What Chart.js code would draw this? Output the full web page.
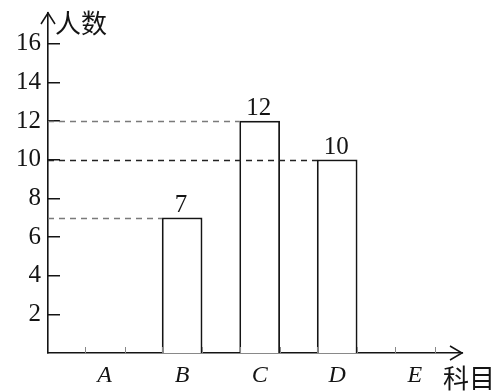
<!DOCTYPE html>
<html><head><meta charset="utf-8">
<script src="https://cdn.jsdelivr.net/npm/chart.js@4/dist/chart.umd.min.js"></script>
<style>html,body{margin:0;padding:0;background:#fff;}</style>
</head><body>
<canvas id="c" width="496" height="392" style="display:block;width:496px;height:392px"></canvas>
<script>
const categories = ['A', 'B', 'C', 'D', 'E'];
const counts = [0, 7, 12, 10, 0];
const yTicks = [2, 4, 6, 8, 10, 12, 14, 16];
const yTitle = '人数';
const xTitle = '科目';

const INK = '#141414';

const decor = {
  id: 'decor',
  afterDatasetsDraw(chart) {
    const { ctx, chartArea: a, scales: { y } } = chart;
    const meta = chart.getDatasetMeta(0);
    ctx.save();
    // dashed guide lines from the y axis to each bar's top-left corner
    meta.data.forEach((bar, i) => {
      const v = counts[i];
      if (!v) return;
      const py = Math.round(y.getPixelForValue(v)) + 0.5;
      const left = bar.x - bar.width / 2;
      ctx.beginPath();
      ctx.setLineDash([6, 5]);
      ctx.strokeStyle = i === 3 ? '#222' : '#7a7a7a';
      ctx.lineWidth = i === 3 ? 1.5 : 1.3;
      ctx.moveTo(a.left, py);
      ctx.lineTo(left, py);
      ctx.stroke();
    });
    ctx.setLineDash([]);
    // value labels
    ctx.fillStyle = INK;
    ctx.font = '25px "Liberation Serif"';
    ctx.textAlign = 'center';
    ctx.textBaseline = 'alphabetic';
    meta.data.forEach((bar, i) => {
      if (!counts[i]) return;
      ctx.fillText(String(counts[i]), bar.x - 1, bar.y - 6);
    });
    // small marks on the x axis at bar edges
    ctx.strokeStyle = '#888';
    ctx.lineWidth = 1;
    meta.data.forEach(bar => {
      [bar.x - bar.width / 2, bar.x + bar.width / 2].forEach(px => {
        ctx.beginPath();
        ctx.moveTo(Math.round(px) + 0.5, a.bottom);
        ctx.lineTo(Math.round(px) + 0.5, a.bottom - 6);
        ctx.stroke();
      });
    });
    // arrow heads
    ctx.strokeStyle = INK;
    ctx.lineWidth = 1.5;
    ctx.beginPath();
    ctx.moveTo(a.left - 7, a.top + 11);
    ctx.lineTo(a.left, a.top);
    ctx.lineTo(a.left + 7, a.top + 11);
    ctx.stroke();
    ctx.beginPath();
    ctx.moveTo(a.right - 12, a.bottom - 7);
    ctx.lineTo(a.right, a.bottom);
    ctx.lineTo(a.right - 12, a.bottom + 7);
    ctx.stroke();
    // axis titles
    ctx.font = '26px "Noto Sans CJK SC"';
    ctx.textAlign = 'left';
    ctx.textBaseline = 'middle';
    ctx.fillText(yTitle, a.left + 7, a.top + 10);
    ctx.fillText(xTitle, a.right - 19, a.bottom + 25);
    ctx.restore();
  }
};

new Chart(document.getElementById('c'), {
  type: 'bar',
  data: {
    datasets: [{
      data: categories.map((c, i) => ({ x: i + 1, y: counts[i] })),
      backgroundColor: '#ffffff',
      borderColor: INK,
      borderWidth: 1.7,
      borderSkipped: 'start',
      barThickness: 40
    }]
  },
  options: {
    responsive: false,
    animation: false,
    devicePixelRatio: 1,
    layout: { padding: { top: 13, right: 34, left: 0, bottom: 0 } },
    plugins: { legend: { display: false }, tooltip: { enabled: false } },
    scales: {
      x: {
        type: 'linear',
        offset: false,
        min: 0.27,
        max: 5.61,
        afterBuildTicks: s => { s.ticks = categories.map((c, i) => ({ value: i + 1 })); },
        afterFit: s => { s.height = 39; s.paddingLeft = 0; s.paddingRight = 0; },
        border: { color: INK, width: 1.6 },
        grid: { display: false, drawTicks: false, offset: false },
        ticks: {
          color: INK,
          padding: 8,
          autoSkip: false,
          maxRotation: 0,
          font: { family: '"Liberation Serif"', size: 24, style: 'italic' },
          callback: v => categories[v - 1]
        }
      },
      y: {
        min: 0,
        max: 17.6,
        afterBuildTicks: s => { s.ticks = yTicks.map(v => ({ value: v })); },
        afterFit: s => { s.width = 48; s.paddingTop = 0; s.paddingBottom = 0; },
        border: { color: INK, width: 1.6 },
        grid: { display: true, drawOnChartArea: false, drawTicks: true, tickLength: -12, color: INK, lineWidth: 1.5 },
        ticks: {
          color: INK,
          padding: 19,
          autoSkip: false,
          font: { family: '"Liberation Serif"', size: 25 }
        }
      }
    }
  },
  plugins: [decor]
});
</script>
</body></html>
